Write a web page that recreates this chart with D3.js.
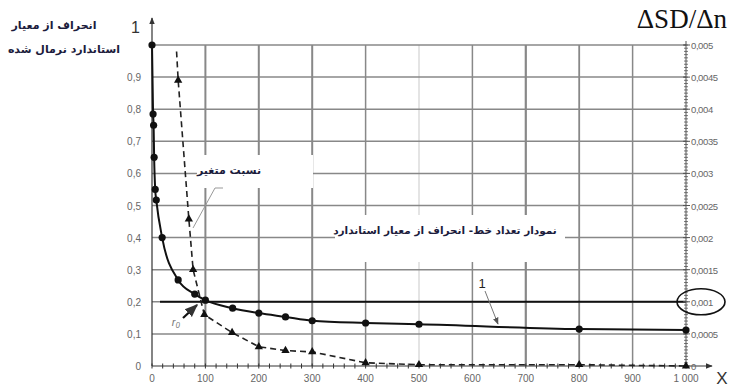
<!DOCTYPE html>
<html lang="fa">
<head>
<meta charset="UTF-8">
<title>انحراف از معیار</title>
<style>
  body { margin: 0; background: #fff; }
  svg { display: block; }
  .tick-label { font: 10px "Liberation Sans", Arial, sans-serif; fill: #666; }
  .fa { font-family: "DejaVu Sans", sans-serif; font-weight: bold; fill: #1c1c3c; }
</style>
</head>
<body>
<svg width="735" height="392"></svg>
<script src="https://d3js.org/d3.v7.min.js"></script>
<script>
// ---- data ----
const xTicks = [0, 100, 200, 300, 400, 500, 600, 700, 800, 900, 1000];
const xTickLabels = ["0", "100", "200", "300", "400", "500", "600", "700", "800", "900", "1 000"];
const leftTicks = [0, 0.1, 0.2, 0.3, 0.4, 0.5, 0.6, 0.7, 0.8, 0.9];
const leftTickLabels = ["0", "0,1", "0,2", "0,3", "0,4", "0,5", "0,6", "0,7", "0,8", "0,9"];
const rightTicks = [0, 0.0005, 0.001, 0.0015, 0.002, 0.0025, 0.003, 0.0035, 0.004, 0.0045, 0.005];
const rightTickLabels = ["0", "0,0005", "0,001", "0,0015", "0,002", "0,0025", "0,003", "0,0035", "0,004", "0,0045", "0,005"];

// normalised standard deviation (solid line, circles)
const sdX = [0, 2, 3, 4, 6, 8, 19, 49, 80, 100, 151, 200, 250, 300, 400, 500, 800, 1000];
const sdY = [1.0, 0.785, 0.75, 0.65, 0.55, 0.517, 0.40, 0.268, 0.224, 0.205, 0.18, 0.165, 0.153, 0.141, 0.134, 0.13, 0.115, 0.112];

// ΔSD/Δn (dashed line, triangles)
const dX = [46, 49, 69, 77, 98, 150, 200, 250, 300, 400, 500, 800, 1000];
const dY = [0.0049, 0.00445, 0.00229, 0.0015, 0.0008, 0.00052, 0.0003, 0.00024, 0.00022, 0.00005, 0.00002, 0.00002, 0];
const dMarked = [false, true, true, true, true, true, true, true, true, true, true, true, true];

const threshold = 0.001;

// ---- scales ----
const svg = d3.select("svg");
const x = d3.scaleLinear().domain([0, 1000]).range([152, 686]);
const yL = d3.scaleLinear().domain([0, 1]).range([366, 45]);
const yR = d3.scaleLinear().domain([0, 0.005]).range([366, 45]);

const defs = svg.append("defs");
defs.append("marker")
    .attr("id", "arr")
    .attr("viewBox", "0 0 10 10")
    .attr("refX", 9).attr("refY", 5)
    .attr("markerWidth", 6).attr("markerHeight", 6)
    .attr("orient", "auto")
  .append("path").attr("d", "M0,1L10,5L0,9z").attr("fill", "#333");
defs.append("marker")
    .attr("id", "arrThin")
    .attr("viewBox", "0 0 10 10")
    .attr("refX", 9).attr("refY", 5)
    .attr("markerWidth", 7).attr("markerHeight", 7)
    .attr("orient", "auto")
  .append("path").attr("d", "M0,1L10,5L0,9z").attr("fill", "#555");

// ---- grid ----
const grid = svg.append("g");
const vWidth = { 100: 2, 200: 2, 300: 2, 400: 1.5, 500: 0.8, 600: 1.5, 700: 2.2, 800: 1.8, 900: 1.5 };
grid.selectAll("line.v")
  .data(xTicks.filter(d => d > 0 && d < 1000))
  .join("line")
    .attr("x1", d => x(d)).attr("x2", d => x(d))
    .attr("y1", yL(1)).attr("y2", yL(0))
    .attr("stroke", d => d === 500 ? "#bbb" : "#888")
    .attr("stroke-width", d => vWidth[d]);
grid.selectAll("line.h")
  .data(leftTicks.filter(d => d > 0).concat([1]))
  .join("line")
    .attr("x1", x(0)).attr("x2", x(1000))
    .attr("y1", d => yL(d)).attr("y2", d => yL(d))
    .attr("stroke", "#888")
    .attr("stroke-width", 1.5);

// threshold line ΔSD/Δn = 0.001
svg.append("line")
    .attr("x1", x(15)).attr("x2", x(1000))
    .attr("y1", yR(threshold)).attr("y2", yR(threshold))
    .attr("stroke", "#111").attr("stroke-width", 2);

// ---- axes ----
// left axis
svg.append("line")
    .attr("x1", x(0)).attr("x2", x(0))
    .attr("y1", yL(0)).attr("y2", 18)
    .attr("stroke", "#333").attr("stroke-width", 1.2)
    .attr("marker-end", "url(#arr)");
svg.selectAll("text.yl")
  .data(leftTicks)
  .join("text")
    .attr("class", "tick-label")
    .attr("x", 141)
    .attr("y", d => yL(d) + 4)
    .attr("text-anchor", "end")
    .text((d, i) => leftTickLabels[i]);
svg.append("text")
    .attr("x", 140).attr("y", 33)
    .attr("text-anchor", "end")
    .style("font", "16px 'Liberation Sans', Arial, sans-serif")
    .attr("fill", "#333")
    .text("1");

// bottom axis
svg.append("line")
    .attr("x1", x(0)).attr("x2", 712)
    .attr("y1", yL(0)).attr("y2", yL(0))
    .attr("stroke", "#333").attr("stroke-width", 1.2)
    .attr("marker-end", "url(#arr)");
svg.selectAll("line.xminor")
  .data(d3.range(0, 1001, 20))
  .join("line")
    .attr("x1", d => x(d)).attr("x2", d => x(d))
    .attr("y1", yL(0) - 2.5).attr("y2", yL(0) + 2.5)
    .attr("stroke", "#333").attr("stroke-width", 1);
svg.selectAll("text.xl")
  .data(xTicks)
  .join("text")
    .attr("class", "tick-label")
    .attr("x", d => x(d))
    .attr("y", 382)
    .attr("text-anchor", "middle")
    .text((d, i) => xTickLabels[i]);
svg.append("text")
    .attr("x", 722).attr("y", 384)
    .attr("text-anchor", "middle")
    .style("font", "17px 'Liberation Sans', Arial, sans-serif")
    .attr("fill", "#333")
    .text("X");

// right axis
svg.append("line")
    .attr("x1", x(1000)).attr("x2", x(1000))
    .attr("y1", yR(0)).attr("y2", yR(0.005) - 4)
    .attr("stroke", "#555").attr("stroke-width", 1);
svg.selectAll("line.rminor")
  .data(d3.range(0, 101).map(i => i * 0.00005))
  .join("line")
    .attr("x1", x(1000) - 2).attr("x2", x(1000) + 2)
    .attr("y1", d => yR(d)).attr("y2", d => yR(d))
    .attr("stroke", "#555").attr("stroke-width", 0.8);
svg.selectAll("line.rmajor")
  .data(rightTicks)
  .join("line")
    .attr("x1", x(1000) - 3).attr("x2", x(1000) + 4)
    .attr("y1", d => yR(d)).attr("y2", d => yR(d))
    .attr("stroke", "#555").attr("stroke-width", 1);
svg.selectAll("text.yr")
  .data(rightTicks)
  .join("text")
    .attr("class", "tick-label")
    .attr("x", 691)
    .attr("y", d => yR(d) + 4)
    .style("font-size", "9.5px")
    .style("letter-spacing", "-0.4px")
    .text((d, i) => rightTickLabels[i]);
svg.append("ellipse")
    .attr("cx", 701).attr("cy", yR(threshold))
    .attr("rx", 24).attr("ry", 13)
    .attr("fill", "none").attr("stroke", "#111").attr("stroke-width", 1.6);

// ---- series ----
const sdData = sdX.map((v, i) => [v, sdY[i]]);
const dData = dX.map((v, i) => [v, dY[i], dMarked[i]]);

svg.append("path")
    .datum(dData)
    .attr("fill", "none")
    .attr("stroke", "#222")
    .attr("stroke-width", 1.6)
    .attr("stroke-dasharray", "6,4")
    .attr("d", d3.line().x(d => x(d[0])).y(d => yR(d[1])));
svg.selectAll("path.tri")
  .data(dData.filter(d => d[2]))
  .join("path")
    .attr("transform", d => `translate(${x(d[0])},${yR(d[1])})`)
    .attr("d", d3.symbol(d3.symbolTriangle, 30))
    .attr("fill", "#111");

svg.append("path")
    .datum(sdData)
    .attr("fill", "none")
    .attr("stroke", "#111")
    .attr("stroke-width", 2)
    .attr("d", d3.line().x(d => x(d[0])).y(d => yL(d[1])).curve(d3.curveMonotoneX));
svg.selectAll("circle.sd")
  .data(sdData)
  .join("circle")
    .attr("cx", d => x(d[0]))
    .attr("cy", d => yL(d[1]))
    .attr("r", 3.6)
    .attr("fill", "#111");

// ---- annotations ----
// label boxes
svg.append("rect")
    .attr("x", 197).attr("y", 155).attr("width", 116).attr("height", 33)
    .attr("fill", "#fff");
svg.append("text")
    .attr("class", "fa")
    .attr("x", 229).attr("y", 174)
    .attr("text-anchor", "middle")
    .style("font-size", "11px")
    .text("نسبت متغیر");
svg.append("polyline")
    .attr("points", [[223, 188], [215, 188], [193, 228]].join(" "))
    .attr("fill", "none").attr("stroke", "#999").attr("stroke-width", 1);

svg.append("rect")
    .attr("x", 335).attr("y", 215).attr("width", 230).attr("height", 47)
    .attr("fill", "#fff");
svg.append("text")
    .attr("class", "fa")
    .attr("x", 445).attr("y", 234)
    .attr("text-anchor", "middle")
    .style("font-size", "10.5px")
    .text("نمودار تعداد خط- انحراف از معیار استاندارد");

// "1" pointer
svg.append("text")
    .attr("x", 482).attr("y", 288)
    .attr("text-anchor", "middle")
    .style("font", "13px 'Liberation Sans', Arial, sans-serif")
    .attr("fill", "#222")
    .text("1");
svg.append("line")
    .attr("x1", 485).attr("y1", 291)
    .attr("x2", 498).attr("y2", 324)
    .attr("stroke", "#777").attr("stroke-width", 1)
    .attr("marker-end", "url(#arrThin)");

// r0 pointer
svg.append("text")
    .attr("x", 176).attr("y", 326)
    .attr("text-anchor", "middle")
    .style("font", "italic 11px 'Liberation Sans', Arial, sans-serif")
    .attr("fill", "#777")
    .text("r₀");
svg.append("line")
    .attr("x1", 183).attr("y1", 318)
    .attr("x2", 197).attr("y2", 305)
    .attr("stroke", "#111").attr("stroke-width", 2.2)
    .attr("marker-end", "url(#arr)");

// axis titles
svg.append("text")
    .attr("class", "fa")
    .attr("x", 54).attr("y", 29)
    .attr("text-anchor", "middle")
    .style("font-size", "11px")
    .text("انحراف از معیار");
svg.append("text")
    .attr("class", "fa")
    .attr("x", 64).attr("y", 53)
    .attr("text-anchor", "middle")
    .style("font-size", "11px")
    .text("استاندارد نرمال شده");
svg.append("text")
    .attr("x", 727).attr("y", 28)
    .attr("text-anchor", "end")
    .attr("font-family", "'Liberation Serif', 'DejaVu Serif', serif")
    .attr("font-size", 27)
    .attr("fill", "#111")
    .text("ΔSD/Δn");
</script>
</body>
</html>
